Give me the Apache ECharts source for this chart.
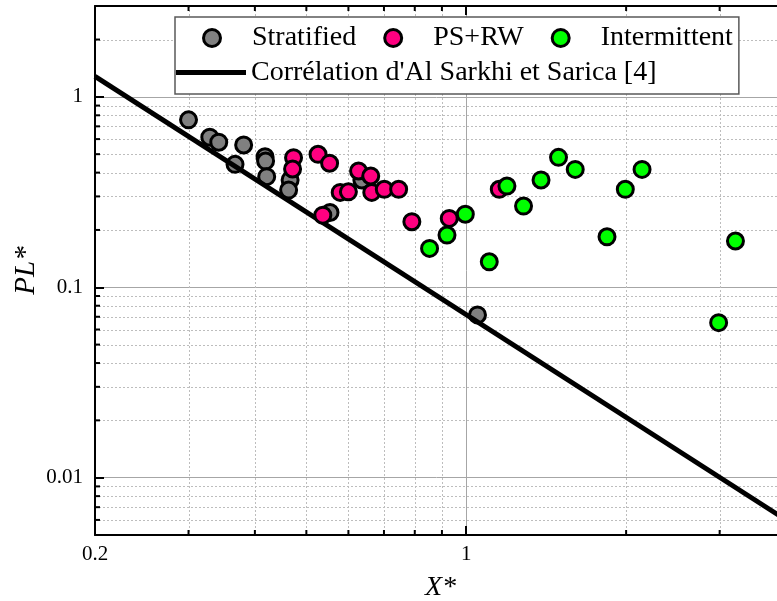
<!DOCTYPE html>
<html>
<head>
<meta charset="utf-8">
<script src="https://cdn.jsdelivr.net/npm/echarts@6/dist/echarts.min.js"></script>
<style>
html,body{margin:0;padding:0;background:#ffffff;}
#c{width:777px;height:601px;}
</style>
</head>
<body>
<div id="c"></div>
<script>
// ---- data ----
const stratified = [
  [0.300, 0.757], [0.329, 0.614], [0.342, 0.578], [0.381, 0.559],
  [0.367, 0.442], [0.418, 0.485], [0.419, 0.460], [0.421, 0.381],
  [0.466, 0.366], [0.463, 0.324], [0.554, 0.247], [0.636, 0.366],
  [1.050, 0.0716]
];
const psrw = [
  [0.473, 0.479], [0.471, 0.418], [0.526, 0.499], [0.553, 0.448],
  [0.579, 0.315], [0.600, 0.317], [0.627, 0.408], [0.661, 0.384],
  [0.664, 0.315], [0.701, 0.327], [0.746, 0.327], [0.790, 0.221],
  [0.537, 0.239], [0.929, 0.230], [1.154, 0.327]
];
const intermittent = [
  [0.853, 0.160], [0.920, 0.188], [0.996, 0.242], [1.105, 0.136],
  [1.193, 0.340], [1.282, 0.267], [1.383, 0.366], [1.492, 0.481],
  [1.604, 0.416], [1.841, 0.184], [1.993, 0.327], [2.143, 0.416],
  [2.987, 0.0652], [3.213, 0.175]
];
const correlation = [[0.2, 1.28], [4.0, 0.0060]];

const seriesNames = ['Stratified', 'PS+RW', 'Intermittent', "Corrélation d'Al Sarkhi et Sarica [4]"];
const xTickLabels = ['0.2', '1'];
const yTickLabels = ['0.01', '0.1', '1'];
const xMinor = [0.3, 0.4, 0.5, 0.6, 0.7, 0.8, 0.9, 2, 3];
const yMinor = [0.006, 0.007, 0.008, 0.009, 0.02, 0.03, 0.04, 0.05, 0.06, 0.07, 0.08, 0.09,
                0.2, 0.3, 0.4, 0.5, 0.6, 0.7, 0.8, 0.9, 2];
const X_MIN = 0.2, X_MAX = 4, Y_MIN = 0.005, Y_MAX = 3;

// ---- chart ----
const FONT = 'Liberation Serif';
const chart = echarts.init(document.getElementById('c'), null, {renderer: 'canvas'});

function axisBase() {
  return {
    type: 'log', logBase: 10,
    axisLine: {show: true, lineStyle: {color: '#000', width: 2}},
    axisTick: {show: true, inside: true, length: 9, lineStyle: {color: '#000', width: 2}},
    splitLine: {show: true, lineStyle: {color: '#a6a6a6', width: 1, type: 'solid'}},
    minorTick: {show: false},
    minorSplitLine: {show: false}
  };
}

const markerStyle = (c) => ({color: c, borderColor: '#000', borderWidth: 3, opacity: 1});
const legendText = {fontFamily: FONT, fontSize: 28, color: '#000', lineHeight: 35};

const option = {
  animation: false,
  backgroundColor: '#ffffff',
  grid: {left: 95, top: 6, right: -9, bottom: 66, containLabel: false, outerBoundsMode: 'none'},
  legend: [
    {
      id: 'markers',
      data: seriesNames.slice(0, 3),
      left: 175, top: 17,
      orient: 'horizontal',
      itemWidth: 70, itemHeight: 17, itemGap: 27,
      padding: [3.5, 6, 38.5, 27],
      backgroundColor: '#ffffff', borderColor: '#5a5a5a', borderWidth: 1.5, borderRadius: 0,
      selectedMode: false,
      itemStyle: {borderWidth: 3, borderColor: '#000'},
      textStyle: legendText,
      z: 4
    },
    {
      id: 'line',
      data: [{name: seriesNames[3], icon: 'rect'}],
      left: 176, top: 55,
      orient: 'horizontal',
      itemWidth: 70, itemHeight: 5, itemGap: 0,
      padding: 0,
      selectedMode: false,
      itemStyle: {borderWidth: 0, color: '#000'},
      textStyle: legendText,
      z: 5
    }
  ],
  xAxis: [
    Object.assign(axisBase(), {
      position: 'bottom', min: X_MIN, max: X_MAX,
      name: 'X*', nameLocation: 'middle', nameGap: 39, nameMoveOverlap: false,
      nameTextStyle: {fontFamily: FONT, fontStyle: 'italic', fontSize: 28, color: '#000'},
      axisLabel: {show: true, margin: 9, fontFamily: FONT, fontSize: 21, color: '#000',
        showMinLabel: true, showMaxLabel: false,
        formatter: (v) => { const s = String(+v.toPrecision(6)); return xTickLabels.includes(s) ? s : ''; }}
    }),
    Object.assign(axisBase(), {
      position: 'top', min: X_MIN, max: X_MAX,
      axisLabel: {show: false}, splitLine: {show: false}
    })
  ],
  yAxis: [
    Object.assign(axisBase(), {
      position: 'left', min: Y_MIN, max: Y_MAX,
      name: 'PL*', nameLocation: 'middle', nameGap: 54, nameMoveOverlap: false,
      nameTextStyle: {fontFamily: FONT, fontStyle: 'italic', fontSize: 29, color: '#000'},
      axisLabel: {show: true, margin: 12, fontFamily: FONT, fontSize: 21, color: '#000',
        showMinLabel: false, showMaxLabel: false,
        formatter: (v) => { const s = String(+v.toPrecision(6)); return yTickLabels.includes(s) ? s : ''; }}
    })
  ],
  series: [
    {name: seriesNames[0], type: 'scatter', data: stratified, symbol: 'circle', symbolSize: 16,
     itemStyle: markerStyle('#808080'), emphasis: {disabled: true}, z: 2},
    {name: seriesNames[3], type: 'line', data: correlation, symbol: 'none', showSymbol: false,
     lineStyle: {color: '#000', width: 5}, itemStyle: {color: '#000'}, emphasis: {disabled: true}, z: 3},
    {name: seriesNames[1], type: 'scatter', data: psrw, symbol: 'circle', symbolSize: 16,
     itemStyle: markerStyle('#ff0080'), emphasis: {disabled: true}, z: 4},
    {name: seriesNames[2], type: 'scatter', data: intermittent, symbol: 'circle', symbolSize: 16,
     itemStyle: markerStyle('#00ff00'), emphasis: {disabled: true}, z: 5}
  ]
};
chart.setOption(option);

// minor grid lines and minor ticks, positioned through the chart's own axis scales
function addMinor() {
  const xL = chart.convertToPixel({xAxisIndex: 0}, X_MIN);
  const xR = chart.convertToPixel({xAxisIndex: 0}, X_MAX);
  const yB = chart.convertToPixel({yAxisIndex: 0}, Y_MIN);
  const yT = chart.convertToPixel({yAxisIndex: 0}, Y_MAX);
  const dash = {stroke: '#bdbdbd', lineWidth: 1, lineDash: [2, 2]};
  const tick = {stroke: '#000', lineWidth: 2};
  const els = [];
  xMinor.forEach(v => {
    const p = chart.convertToPixel({xAxisIndex: 0}, v);
    const pc = Math.round(p) + 0.5;
    els.push({type: 'line', silent: true, z: 0, shape: {x1: pc, y1: yT, x2: pc, y2: yB}, style: dash});
    els.push({type: 'line', silent: true, z: 10, shape: {x1: p, y1: yB, x2: p, y2: yB - 5}, style: tick});
    els.push({type: 'line', silent: true, z: 10, shape: {x1: p, y1: yT, x2: p, y2: yT + 5}, style: tick});
  });
  yMinor.forEach(v => {
    const p = chart.convertToPixel({yAxisIndex: 0}, v);
    const pc = Math.round(p) + 0.5;
    els.push({type: 'line', silent: true, z: 0, shape: {x1: xL, y1: pc, x2: xR, y2: pc}, style: dash});
    els.push({type: 'line', silent: true, z: 10, shape: {x1: xL, y1: p, x2: xL + 5, y2: p}, style: tick});
  });
  chart.setOption({graphic: {elements: els}});
}
addMinor();
</script>
</body>
</html>
